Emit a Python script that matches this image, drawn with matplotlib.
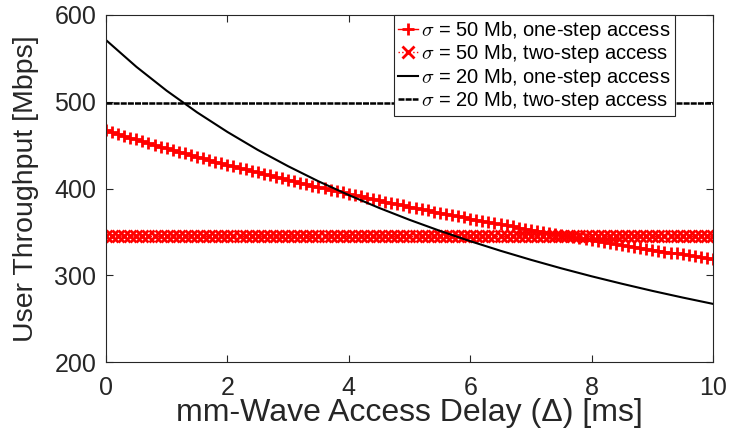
import matplotlib

matplotlib.use("Agg")
import matplotlib.pyplot as plt

# access delay grid [ms] (0.1 ms steps)
delay = [
    0.0, 0.1, 0.2, 0.3, 0.4, 0.5, 0.6, 0.7, 0.8, 0.9,
    1.0, 1.1, 1.2, 1.3, 1.4, 1.5, 1.6, 1.7, 1.8, 1.9,
    2.0, 2.1, 2.2, 2.3, 2.4, 2.5, 2.6, 2.7, 2.8, 2.9,
    3.0, 3.1, 3.2, 3.3, 3.4, 3.5, 3.6, 3.7, 3.8, 3.9,
    4.0, 4.1, 4.2, 4.3, 4.4, 4.5, 4.6, 4.7, 4.8, 4.9,
    5.0, 5.1, 5.2, 5.3, 5.4, 5.5, 5.6, 5.7, 5.8, 5.9,
    6.0, 6.1, 6.2, 6.3, 6.4, 6.5, 6.6, 6.7, 6.8, 6.9,
    7.0, 7.1, 7.2, 7.3, 7.4, 7.5, 7.6, 7.7, 7.8, 7.9,
    8.0, 8.1, 8.2, 8.3, 8.4, 8.5, 8.6, 8.7, 8.8, 8.9,
    9.0, 9.1, 9.2, 9.3, 9.4, 9.5, 9.6, 9.7, 9.8, 9.9,
    10.0,
]

# sigma = 50 Mb, one-step access [Mbps]
s50_one = [
    467.1, 464.9, 462.8, 460.7, 458.6, 456.5, 454.4, 452.4, 450.4, 448.3,
    446.4, 444.4, 442.4, 440.5, 438.6, 436.7, 434.8, 432.9, 431.1, 429.2,
    427.4, 425.6, 423.8, 422.0, 420.2, 418.5, 416.8, 415.0, 413.3, 411.6,
    410.0, 408.3, 406.7, 405.0, 403.4, 401.8, 400.2, 398.6, 397.0, 395.5,
    393.9, 392.4, 390.9, 389.4, 387.8, 386.4, 384.9, 383.4, 382.0, 380.5,
    379.1, 377.7, 376.2, 374.8, 373.4, 372.1, 370.7, 369.3, 368.0, 366.6,
    365.3, 364.0, 362.7, 361.4, 360.1, 358.8, 357.5, 356.3, 355.0, 353.7,
    352.5, 351.3, 350.1, 348.8, 347.6, 346.4, 345.3, 344.1, 342.9, 341.7,
    340.6, 339.4, 338.3, 337.2, 336.0, 334.9, 333.8, 332.7, 331.6, 330.5,
    329.4, 328.4, 327.3, 326.2, 325.2, 324.1, 323.1, 322.0, 321.0, 320.0,
    319.0,
]

# sigma = 50 Mb, two-step access [Mbps] (flat)
s50_two = [
    345.0, 345.0, 345.0, 345.0, 345.0, 345.0, 345.0, 345.0, 345.0, 345.0,
    345.0, 345.0, 345.0, 345.0, 345.0, 345.0, 345.0, 345.0, 345.0, 345.0,
    345.0, 345.0, 345.0, 345.0, 345.0, 345.0, 345.0, 345.0, 345.0, 345.0,
    345.0, 345.0, 345.0, 345.0, 345.0, 345.0, 345.0, 345.0, 345.0, 345.0,
    345.0, 345.0, 345.0, 345.0, 345.0, 345.0, 345.0, 345.0, 345.0, 345.0,
    345.0, 345.0, 345.0, 345.0, 345.0, 345.0, 345.0, 345.0, 345.0, 345.0,
    345.0, 345.0, 345.0, 345.0, 345.0, 345.0, 345.0, 345.0, 345.0, 345.0,
    345.0, 345.0, 345.0, 345.0, 345.0, 345.0, 345.0, 345.0, 345.0, 345.0,
    345.0, 345.0, 345.0, 345.0, 345.0, 345.0, 345.0, 345.0, 345.0, 345.0,
    345.0, 345.0, 345.0, 345.0, 345.0, 345.0, 345.0, 345.0, 345.0, 345.0,
    345.0,
]

# sigma = 20 Mb curves (0.5 ms steps)
delay_20 = [0.0, 0.5, 1.0, 1.5, 2.0, 2.5, 3.0, 3.5, 4.0, 4.5, 5.0,
            5.5, 6.0, 6.5, 7.0, 7.5, 8.0, 8.5, 9.0, 9.5, 10.0]
s20_one = [571.1, 540.3, 512.7, 487.8, 465.2, 444.5, 425.7, 408.3, 392.4, 377.6, 363.9,
           351.2, 339.3, 328.2, 317.8, 308.0, 298.8, 290.2, 282.0, 274.3, 267.0]
s20_two = [498.0, 498.0, 498.0, 498.0, 498.0, 498.0, 498.0, 498.0, 498.0, 498.0, 498.0,
           498.0, 498.0, 498.0, 498.0, 498.0, 498.0, 498.0, 498.0, 498.0, 498.0]

TEXT = "#262626"
plt.rcParams["font.family"] = ["Liberation Sans", "DejaVu Sans"]
plt.rcParams["mathtext.fontset"] = "cm"

fig = plt.figure(figsize=(7.29, 4.30), dpi=100)
ax = fig.add_axes([106 / 729, 1 - 362 / 430, 607 / 729, 347 / 430])

ax.plot(delay, s50_one, color="red", marker="+", markersize=9, markeredgewidth=2,
        linewidth=1, label=r"$\sigma$ = 50 Mb, one-step access")
ax.plot(delay, s50_two, color="red", marker="x", markersize=8.5, markeredgewidth=2,
        linestyle=":", linewidth=1, label=r"$\sigma$ = 50 Mb, two-step access")
ax.plot(delay_20, s20_one, color="black", linewidth=1.5,
        label=r"$\sigma$ = 20 Mb, one-step access")
ax.plot(delay_20, s20_two, color="black", linewidth=1.8, dashes=(2.4, 0.45),
        label=r"$\sigma$ = 20 Mb, two-step access")

ax.set_xlim(0, 10)
ax.set_ylim(200, 600)
ax.set_xticks([0, 2, 4, 6, 8, 10])
ax.set_yticks([200, 300, 400, 500, 600])
ax.tick_params(direction="in", top=True, right=True, length=5, width=0.8,
               labelsize=18, colors=TEXT)
ax.tick_params(axis="x", pad=10)
ax.tick_params(axis="y", pad=7)
for s in ax.spines.values():
    s.set_color(TEXT)
    s.set_linewidth(0.8)

ax.set_xlabel("mm-Wave Access Delay (Δ) [ms]", fontsize=23, color=TEXT, labelpad=-1)
ax.set_ylabel("User Throughput [Mbps]", fontsize=20.5, color=TEXT, labelpad=11)

leg = ax.legend(loc="upper right", bbox_to_anchor=(0.937, 1.0), borderaxespad=0,
                fontsize=14.5, handlelength=1.0, handletextpad=0.15, labelspacing=0.02,
                borderpad=0.2, fancybox=False, framealpha=1, edgecolor=TEXT)
leg.get_frame().set_linewidth(0.8)
for t in leg.get_texts():
    t.set_color("black")

fig.savefig("out.png", dpi=100)
